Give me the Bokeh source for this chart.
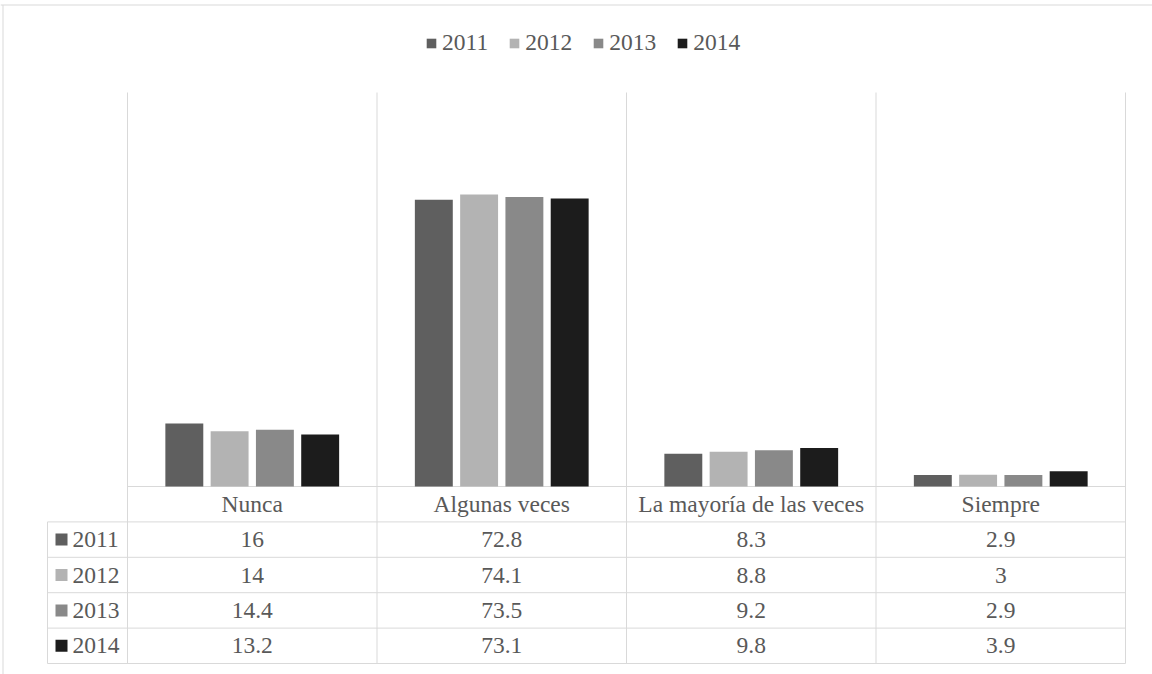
from bokeh.plotting import figure
from bokeh.models import Range1d, Legend, LegendItem, ColumnDataSource
from bokeh.core.properties import value
from bokeh.embed import file_html
from bokeh.resources import INLINE

# ---- data ----
categories = ["Nunca", "Algunas veces", "La mayoría de las veces", "Siempre"]
years = ["2011", "2012", "2013", "2014"]
v2011 = [16, 72.8, 8.3, 2.9]
v2012 = [14, 74.1, 8.8, 3]
v2013 = [14.4, 73.5, 9.2, 2.9]
v2014 = [13.2, 73.1, 9.8, 3.9]
series = [v2011, v2012, v2013, v2014]
colors = ["#5f5f5f", "#b3b3b3", "#898989", "#1c1c1c"]
y_max = 100

# ---- layout (pixels) ----
W, H = 1152, 674
PLOT_L, PLOT_R, PLOT_T, PLOT_B = 127, 1125, 92, 486
ROW_PX = 35.4
TABLE_L = 47
n_cat = len(categories)
cat_w = (PLOT_R - PLOT_L) / n_cat
ppu = (PLOT_B - PLOT_T) / y_max


def px_x(px):
    return (px - PLOT_L) / cat_w


def px_y(py):
    return (PLOT_B - py) / ppu


ROW = ROW_PX / ppu
FONT = value("Liberation Serif")
FSIZE = value("23.5px")
TXT = "#595959"
GRID = "#d9d9d9"

p = figure(width=W, height=H, output_backend="svg", toolbar_location=None,
           x_range=Range1d(px_x(0), px_x(W)), y_range=Range1d(px_y(H), px_y(0)),
           x_axis_location=None, y_axis_location=None, min_border=0,
           outline_line_color=None, background_fill_color="white",
           border_fill_color="white")
p.xgrid.visible = False
p.ygrid.visible = False

# outer chart-area border (top and left)
p.segment(x0=[px_x(0), px_x(2.5)], y0=[px_y(4.5), px_y(4.5)],
          x1=[px_x(W), px_x(2.5)], y1=[px_y(4.5), px_y(H)],
          line_color=GRID, line_width=1)

n_rows = len(years)
# vertical category separators (plot + table)
xs = list(range(n_cat + 1))
p.segment(x0=xs, y0=[-ROW * (n_rows + 1)] * len(xs), x1=xs, y1=[y_max] * len(xs),
          line_color=GRID, line_width=1)
# table left border
p.segment(x0=[px_x(TABLE_L)], y0=[-ROW], x1=[px_x(TABLE_L)], y1=[-ROW * (n_rows + 1)],
          line_color=GRID, line_width=1)
# horizontal table lines
p.segment(x0=[0], y0=[0], x1=[n_cat], y1=[0], line_color=GRID, line_width=1)
hy = [-ROW * (k + 1) for k in range(n_rows + 1)]
p.segment(x0=[px_x(TABLE_L)] * len(hy), y0=hy, x1=[n_cat] * len(hy), y1=hy,
          line_color=GRID, line_width=1)

# bars
bar_w = 0.152
pitch = 0.1815
renderers = []
for k, (yr, vals, col) in enumerate(zip(years, series, colors)):
    off = (k - (n_rows - 1) / 2) * pitch
    src = ColumnDataSource(dict(x=[i + 0.5 + off for i in range(n_cat)], top=vals))
    r = p.vbar(x="x", top="top", bottom=0, width=bar_w, source=src,
               fill_color=col, line_color=None)
    renderers.append(r)

# header row: category names
p.text(x=[i + 0.5 for i in range(n_cat)], y=[-ROW / 2] * n_cat, text=categories,
       text_font=FONT, text_font_size=FSIZE, text_color=TXT,
       text_align="center", text_baseline="middle")

# table rows
for k, (yr, vals, col) in enumerate(zip(years, series, colors)):
    yc = -ROW * (k + 1) - ROW / 2
    p.text(x=[i + 0.5 for i in range(n_cat)], y=[yc] * n_cat,
           text=[f"{v:g}" for v in vals],
           text_font=FONT, text_font_size=FSIZE, text_color=TXT,
           text_align="center", text_baseline="middle")
    p.rect(x=[px_x(61)], y=[yc], width=12, height=12, width_units="screen",
           height_units="screen", fill_color=col, line_color=None)
    p.text(x=[px_x(72)], y=[yc], text=[yr],
           text_font=FONT, text_font_size=FSIZE, text_color=TXT,
           text_align="left", text_baseline="middle")

legend = Legend(items=[LegendItem(label=yr, renderers=[r]) for yr, r in zip(years, renderers)],
                orientation="horizontal", location=(425, H - 56), padding=0, margin=0,
                spacing=20, label_standoff=5, glyph_width=12, glyph_height=12,
                label_text_font="Liberation Serif", label_text_font_size="23.5px",
                label_text_color=TXT, border_line_color=None, background_fill_alpha=0)
p.add_layout(legend)

open("out.html", "w").write(file_html(p, INLINE))
